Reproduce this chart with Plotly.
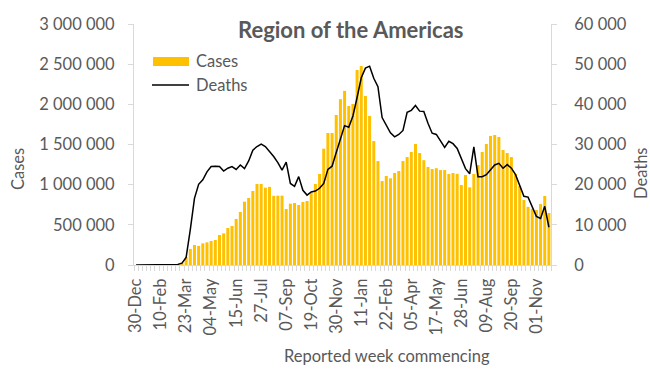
import pandas as pd
import plotly.graph_objects as go

cases = [0, 0, 0, 0, 0, 0, 0, 0, 100, 1500, 6000, 28000, 96000, 200000, 249000, 237000,
         270000, 282000, 299000, 311000, 373000, 394000, 461000, 485000, 573000, 660000,
         788000, 834000, 921000, 1008000, 1008000, 963000, 973000, 861000, 863000, 863000,
         697000, 763000, 772000, 747000, 784000, 797000, 900000, 1008000, 1133000, 1448000,
         1643000, 1643000, 1867000, 2064000, 2168000, 1979000, 2004000, 2427000, 2477000,
         2104000, 1855000, 1543000, 1294000, 1046000, 1108000, 1079000, 1145000, 1170000,
         1294000, 1344000, 1407000, 1506000, 1394000, 1305000, 1220000, 1195000, 1205000,
         1182000, 1182000, 1133000, 1145000, 1135000, 996000, 1120000, 967000, 1133000,
         1245000, 1407000, 1506000, 1606000, 1618000, 1593000, 1431000, 1394000, 1344000,
         1133000, 985000, 809000, 724000, 700000, 685000, 759000, 859000, 647000]

deaths = [0, 0, 0, 0, 0, 0, 0, 0, 0, 30, 150, 450, 1900, 8800, 16600, 20100, 21200, 23200,
          24500, 24600, 24500, 23400, 24100, 24500, 23800, 24900, 24000, 25900, 28600, 29500,
          30100, 29500, 28300, 27000, 25500, 23600, 25600, 20300, 19600, 22000, 18600, 17400,
          18200, 18400, 19100, 20300, 23800, 24600, 28000, 31500, 34700, 34300, 37100, 41700,
          46600, 49000, 49500, 46500, 44400, 36700, 34800, 32900, 31900, 32500, 33500, 38000,
          38500, 39700, 38300, 38200, 35300, 32800, 32500, 30800, 29300, 30800, 30200, 29000,
          26300, 24000, 22700, 29400, 22000, 22000, 22500, 23700, 24900, 25300, 24100, 25000,
          24100, 22500, 19900, 17100, 16900, 14700, 12100, 11600, 14600, 9400]

first_week = "2019-12-30"
weeks = pd.date_range(first_week, periods=len(cases), freq="7D")
tick_weeks = weeks[::6]
tick_labels = [d.strftime("%d-%b") for d in tick_weeks]

FONT = "Lato"
GREY = "#595959"
AXIS = "#d9d9d9"
FS = 16.5
W, H = 650, 370
L, R, T, B = 134, 551, 24, 265


def px(x):
    return (x - L) / (R - L)


def py(y):
    return (B - y) / (B - T)


half_week = pd.Timedelta(days=3.5)

fig = go.Figure()
fig.add_trace(go.Bar(x=weeks, y=cases, name="Cases", marker_color="#FFC000",
                     marker_line_width=0, yaxis="y"))
fig.add_trace(go.Scatter(x=weeks, y=deaths, name="Deaths", mode="lines",
                         line=dict(color="black", width=1.5), yaxis="y2"))

fig.update_layout(
    width=W, height=H,
    margin=dict(l=L, r=W - R, t=T, b=H - B),
    paper_bgcolor="white", plot_bgcolor="white",
    showlegend=False,
    bargap=0.28,
    separators=". ",
    font=dict(family=FONT, color=GREY, size=FS),
    xaxis=dict(
        type="date",
        range=[weeks[0] - half_week, weeks[-1] + half_week],
        tickmode="array", tickvals=tick_weeks, ticktext=tick_labels,
        tickangle=-90, ticks="", showgrid=False,
        showline=True, linecolor=AXIS, linewidth=1,
        tickfont=dict(size=FS, color=GREY),
        ticklabelstandoff=6, automargin=False,
        minor=dict(tickmode="array",
                   tickvals=[w - half_week for w in weeks] + [weeks[-1] + half_week],
                   ticks="outside", ticklen=5, tickcolor=AXIS, tickwidth=1,
                   showgrid=False),
    ),
    yaxis=dict(
        range=[0, 3000000], dtick=500000, tickformat=",d",
        showgrid=False, zeroline=False,
        showline=True, linecolor=AXIS, linewidth=1,
        ticks="outside", ticklen=5, tickcolor=AXIS,
        tickfont=dict(size=FS, color=GREY),
        ticklabelstandoff=10, automargin=False,
    ),
    yaxis2=dict(
        range=[0, 60000], dtick=10000, tickformat=",d",
        overlaying="y", side="right",
        showgrid=False, zeroline=False,
        showline=True, linecolor=AXIS, linewidth=1,
        ticks="outside", ticklen=5, tickcolor=AXIS,
        tickfont=dict(size=FS, color=GREY),
        ticklabelstandoff=14, automargin=False,
    ),
)

annotations = [
    dict(text="<b>Region of the Americas</b>", x=px(351), y=py(29),
         font=dict(size=22, color=GREY)),
    dict(text="Cases", x=px(18), y=py(169), textangle=-90, font=dict(size=FS, color=GREY)),
    dict(text="Deaths", x=px(641), y=py(173), textangle=-90, font=dict(size=FS, color=GREY)),
    dict(text="Reported week commencing", x=px(387), y=py(356), font=dict(size=FS, color=GREY)),
    dict(text="Cases", x=px(194), y=py(61), xanchor="left", font=dict(size=FS, color=GREY)),
    dict(text="Deaths", x=px(194), y=py(85), xanchor="left", font=dict(size=FS, color=GREY)),
]
for a in annotations:
    a.setdefault("xanchor", "center")
    fig.add_annotation(xref="paper", yref="paper", showarrow=False, yanchor="middle", **a)

fig.add_shape(type="rect", xref="paper", yref="paper", x0=px(153), x1=px(189),
              y0=py(66), y1=py(57), fillcolor="#FFC000", line_width=0)
fig.add_shape(type="line", xref="paper", yref="paper", x0=px(152), x1=px(189),
              y0=py(85), y1=py(85), line=dict(color="black", width=1.5))

fig.write_html("out.html",
               config={"displayModeBar": False},
               post_script="document.body.style.margin='0';document.body.style.padding='0';")
